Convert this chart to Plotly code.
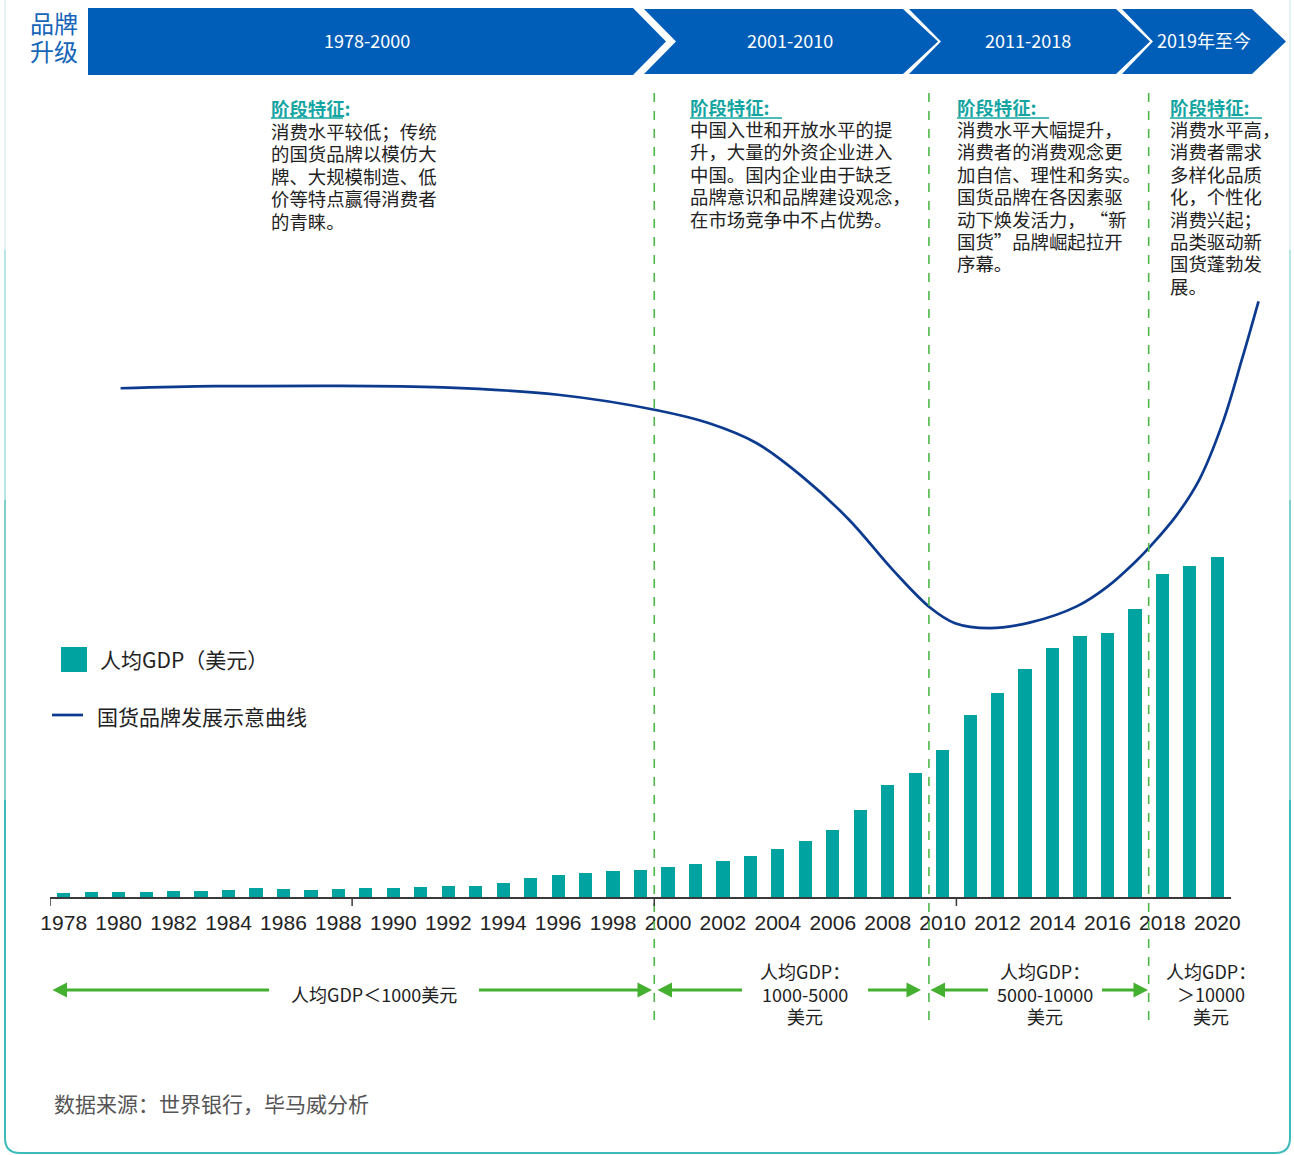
import plotly.graph_objects as go

# ---------------- data ----------------
years = list(range(1978, 2021))
gdp_per_capita = [156, 183, 195, 197, 203, 225, 250, 294, 282, 252, 284, 311, 318, 333, 366,
                  377, 473, 610, 709, 782, 829, 873, 959, 1053, 1149, 1289, 1509, 1753, 2099,
                  2694, 3468, 3832, 4550, 5618, 6317, 7051, 7679, 8067, 8148, 8879, 9977,
                  10217, 10500]
tick_years = list(range(1978, 2021, 2))
tick_labels = [str(y) for y in tick_years]

# schematic brand-development curve (index 0-100)
curve_years = [1980.07, 1983.5, 1987.4, 1991.8, 1996.0, 1999.6, 2001.5, 2003.2, 2004.9, 2006.6,
               2008.2, 2009.55, 2010.45, 2011.7, 2013.2, 2014.9, 2016.0, 2017.0, 2017.6,
               2018.5, 2019.35, 2020.2, 2020.9, 2021.5]
curve_index = [62.7, 62.95, 63.0, 62.8, 61.9, 60.0, 58.4, 56.0, 51.8, 46.5,
               40.3, 35.7, 33.8, 33.2, 33.9, 35.9, 38.3, 41.3, 43.4,
               47.0, 51.5, 58.5, 66.3, 73.4]

stage_boundaries = [1999.5, 2009.5, 2017.5]
stage_labels = ["1978-2000", "2001-2010", "2011-2018", "2019年至今"]

block_title = "阶段特征:"
block_texts = [
    ["消费水平较低；传统", "的国货品牌以模仿大", "牌、大规模制造、低", "价等特点赢得消费者", "的青睐。"],
    ["中国入世和开放水平的提", "升，大量的外资企业进入", "中国。国内企业由于缺乏", "品牌意识和品牌建设观念，", "在市场竞争中不占优势。"],
    ["消费水平大幅提升，", "消费者的消费观念更", "加自信、理性和务实。", "国货品牌在各因素驱", "动下焕发活力， “新", "国货”品牌崛起拉开", "序幕。"],
    ["消费水平高，", "消费者需求", "多样化品质", "化，个性化", "消费兴起；", "品类驱动新", "国货蓬勃发", "展。"],
]
gdp_range_texts = [
    ["人均GDP＜1000美元"],
    ["人均GDP：", "1000-5000", "美元"],
    ["人均GDP：", "5000-10000", "美元"],
    ["人均GDP：", "＞10000", "美元"],
]
legend_bar = "人均GDP（美元）"
legend_line = "国货品牌发展示意曲线"
source_text = "数据来源：世界银行，毕马威分析"

# ---------------- layout helpers ----------------
W, H = 1294, 1155
L, R, T, B = 50, 8, 85, 257
PW, PH = W - L - R, H - T - B
BASE = H - B


def px(x):
    return (x - L) / PW


def py(y):
    return (BASE - y) / PH


CJK = "Noto Sans CJK SC"
BLUE = "#005EB8"
TEAL = "#00A3A0"
NAVY = "#0B3A8E"
GREEN = "#4DB848"
AGREEN = "#43B02F"
TXT = "#222222"

fig = go.Figure()
fig.add_trace(go.Bar(x=years, y=gdp_per_capita, width=0.48, marker_color=TEAL,
                     marker_line_width=0, showlegend=False, yaxis="y"))
fig.add_trace(go.Scatter(x=curve_years, y=curve_index, mode="lines",
                         line=dict(color=NAVY, width=2.7, shape="spline", smoothing=1.0),
                         showlegend=False, yaxis="y2"))

shapes = []
annotations = []


def poly(points, color):
    d = "M " + " L ".join(f"{px(x):.5f},{py(y):.5f}" for x, y in points) + " Z"
    shapes.append(dict(type="path", path=d, xref="paper", yref="paper",
                       fillcolor=color, line=dict(width=0), layer="above"))


def seg(x0, y0, x1, y1, color, width, dash=None):
    ln = dict(color=color, width=width)
    if dash:
        ln["dash"] = dash
    shapes.append(dict(type="line", xref="paper", yref="paper", x0=px(x0), y0=py(y0),
                       x1=px(x1), y1=py(y1), line=ln))


def text(x, y, s, size, color=TXT, anchor="left", family=CJK, bold=False):
    if bold:
        s = f"<b>{s}</b>"
    annotations.append(dict(x=px(x), y=py(y), xref="paper", yref="paper", text=s,
                            showarrow=False, xanchor=anchor, yanchor="middle",
                            font=dict(family=family, size=size, color=color)))


# outer frame (fading toward the top)
frame_cols = ["#e3f3f3", "#b8e4e4", "#7fcfcf", "#3dbaba"]
frame_ys = [0, 250, 500, 800, 1138]
for i, c in enumerate(frame_cols):
    seg(5, frame_ys[i], 5, frame_ys[i + 1], c, 2)
    seg(1290, frame_ys[i], 1290, frame_ys[i + 1], c, 2)
corner = (f"M {px(5):.5f},{py(1138):.5f} Q {px(5):.5f},{py(1153):.5f} {px(20):.5f},{py(1153):.5f} "
          f"L {px(1275):.5f},{py(1153):.5f} Q {px(1290):.5f},{py(1153):.5f} {px(1290):.5f},{py(1138):.5f}")
shapes.append(dict(type="path", path=corner, xref="paper", yref="paper",
                   line=dict(color="#3dbaba", width=2)))

# header chevrons
chevrons = [
    [(88, 8), (633, 8), (666, 41.5), (633, 75), (88, 75)],
    [(644, 9), (903, 9), (938, 41.5), (903, 74), (644, 74), (676, 41.5)],
    [(909, 9), (1116, 9), (1150, 41.5), (1116, 74), (909, 74), (941, 41.5)],
    [(1122, 9), (1252, 9), (1286, 41.5), (1252, 74), (1122, 74), (1153, 41.5)],
]
for c in chevrons:
    poly(c, BLUE)
for lab, cx in zip(stage_labels, [367, 790, 1028, 1204]):
    text(cx, 40.5, lab, 18, color="white", anchor="center")
text(54, 23, "品牌", 24, color="#1565B8", anchor="center")
text(54, 51, "升级", 24, color="#1565B8", anchor="center")

# stage boundaries (dashed)
for xb in stage_boundaries:
    shapes.append(dict(type="line", xref="x", yref="paper", x0=xb, x1=xb,
                       y0=py(1020), y1=py(85), line=dict(color=GREEN, width=1.6, dash="dash")))

# axis line and ticks
shapes.append(dict(type="line", xref="x", yref="paper", x0=1977.5, x1=2020.5, y0=0, y1=0,
                   line=dict(color="#3a3a3a", width=2)))
for tx in [1977.5, 1988.5, 1999.5, 2010.5]:
    shapes.append(dict(type="line", xref="x", yref="paper", x0=tx, x1=tx, y0=0, y1=py(906),
                       line=dict(color="#3a3a3a", width=1.5)))

# stage description blocks
block_x = [269, 688, 955, 1168]
title_y = [108, 107, 107, 107]
first_y = [131, 129, 129, 129]
ul_w = [72, 92, 92, 92]
for bx, ty, fy, lines, uw in zip(block_x, title_y, first_y, block_texts, ul_w):
    text(bx, ty, block_title, 18.4, color="#14A5A2", bold=True)
    seg(bx + 2, 118, bx + 2 + uw, 118, "#14A5A2", 1.5)
    for k, ln in enumerate(lines):
        text(bx, fy + k * 22.4, ln, 18.4)

# legend
shapes.append(dict(type="rect", xref="paper", yref="paper", x0=px(61), x1=px(87),
                   y0=py(672), y1=py(647), fillcolor=TEAL, line=dict(width=0)))
text(98, 659, legend_bar, 21)
seg(52, 715, 83, 715, NAVY, 2.7)
text(95, 716, legend_line, 21)


# GDP range arrows
def head(tip, base, y):
    poly([(tip, y), (base, y - 7.5), (base, y + 7.5)], AGREEN)


AY = 990
# arrow 1
head(52.5, 67, AY); seg(66, AY, 269, AY, AGREEN, 3)
seg(479, AY, 639, AY, AGREEN, 3); head(652, 637.5, AY)
# arrow 2
head(657.5, 672, AY); seg(671, AY, 742, AY, AGREEN, 3)
seg(868, AY, 908, AY, AGREEN, 3); head(921, 906.5, AY)
# arrow 3
head(930.5, 945, AY); seg(944, AY, 988, AY, AGREEN, 3)
seg(1102, AY, 1135, AY, AGREEN, 3); head(1148, 1133.5, AY)

text(374, 994, gdp_range_texts[0][0], 18, anchor="center")
for cx, lines in zip([805, 1045, 1211], gdp_range_texts[1:]):
    for k, ln in enumerate(lines):
        text(cx, 971 + k * 22.5, ln, 18, anchor="center")

# source
text(52, 1103, source_text, 21, color="#555555")

fig.update_layout(
    width=W, height=H,
    margin=dict(l=L, r=R, t=T, b=B, pad=0),
    paper_bgcolor="white", plot_bgcolor="white",
    bargap=0,
    xaxis=dict(range=[1977.5, 2022.5], tickmode="array", tickvals=tick_years, ticktext=tick_labels,
               showgrid=False, zeroline=False, showline=False, ticks="outside", ticklen=6,
               tickcolor="rgba(0,0,0,0)",
               tickfont=dict(family="Liberation Sans", size=21, color=TXT), fixedrange=True),
    yaxis=dict(range=[0, 25000], visible=False, fixedrange=True),
    yaxis2=dict(range=[0, 100], overlaying="y", visible=False, fixedrange=True),
    shapes=shapes, annotations=annotations,
    showlegend=False,
)

fig.write_html("out.html", config={"displayModeBar": False})
